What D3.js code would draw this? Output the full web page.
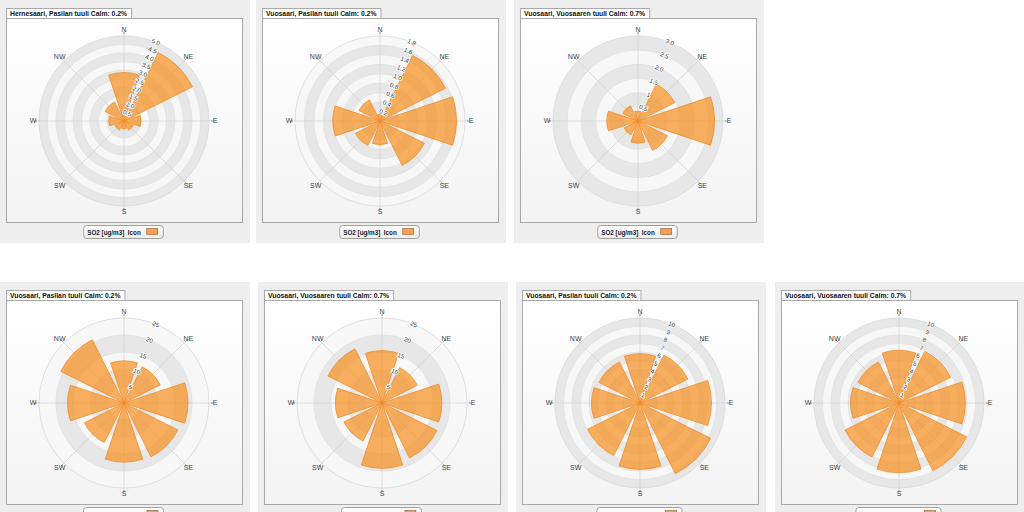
<!DOCTYPE html>
<html><head><meta charset="utf-8">
<script src="https://cdn.jsdelivr.net/npm/d3@7"></script>
<style>
html,body{margin:0;padding:0;background:#fff;}
svg{display:block;font-family:"Liberation Sans",Arial,sans-serif;}
</style></head>
<body>
<svg id="chart" width="1024" height="512"></svg>
<script>
// ---------- DATA ----------
const directions = ["N","NE","E","SE","S","SW","W","NW"];

const titles = [
  "Hernesaari, Pasilan tuuli Calm: 0.2%",
  "Vuosaari, Pasilan tuuli Calm: 0.2%",
  "Vuosaari, Vuosaaren tuuli Calm: 0.7%",
  "Vuosaari, Pasilan tuuli Calm: 0.2%",
  "Vuosaari, Vuosaaren tuuli Calm: 0.7%",
  "Vuosaari, Pasilan tuuli Calm: 0.2%",
  "Vuosaari, Vuosaaren tuuli Calm: 0.7%"
];
const legendLabels = [
  "SO2 [ug/m3]  Icon","SO2 [ug/m3]  Icon","SO2 [ug/m3]  Icon",
  "NO2 [ug/m3]  Icon","NO2 [ug/m3]  Icon",
  "PM2.5 [ug/m3]  Icon","PM2.5 [ug/m3]  Icon"
];

// series values per direction (N, NE, E, SE, S, SW, W, NW)
const hernesaariSO2Pasila   = [2.85, 4.5, 1.0, 0.6, 0.45, 0.6, 0.9, 1.25];
const vuosaariSO2Pasila     = [0.15, 1.55, 1.62, 1.05, 0.5, 0.58, 1.0, 0.5];
const vuosaariSO2Vuosaari   = [0.35, 1.45, 2.7, 1.16, 0.78, 0.55, 1.1, 0.6];
const vuosaariNO2Pasila     = [12.4, 11.9, 18.8, 17.7, 17.4, 13.0, 16.6, 20.8];
const vuosaariNO2Vuosaari   = [15.4, 11.6, 17.6, 18.1, 19.2, 12.5, 13.7, 17.8];
const vuosaariPM25Pasila    = [5.8, 6.3, 8.4, 9.3, 7.8, 6.9, 5.7, 5.4];
const vuosaariPM25Vuosaari  = [6.2, 6.8, 7.8, 8.9, 8.2, 7.1, 5.7, 5.4];

// radial tick values and labels
const ticksSO2a  = [0.5,1.0,1.5,2.0,2.5,3.0,3.5,4.0,4.5,5.0];
const labelsSO2a = ["0.5","1.0","1.5","2.0","2.5","3.0","3.5","4.0","4.5","5.0"];
const ticksSO2b  = [0.2,0.4,0.6,0.8,1.0,1.2,1.4,1.6,1.8];
const labelsSO2b = ["0.2","0.4","0.6","0.8","1.0","1.2","1.4","1.6","1.8"];
const ticksSO2c  = [0.5,1.0,1.5,2.0,2.5,3.0];
const labelsSO2c = ["0.5","1","1.5","2.0","2.5","3.0"];
const ticksNO2   = [5,10,15,20,25];
const labelsNO2  = ["5","10","15","20","25"];
const ticksPM    = [1,2,3,4,5,6,7,8,9,10];
const labelsPM   = ["1","2","3","4","5","6","7","8","9","10"];

const panels = [
  {title:titles[0], legend:legendLabels[0], values:hernesaariSO2Pasila,  ticks:ticksSO2a, labels:labelsSO2a},
  {title:titles[1], legend:legendLabels[1], values:vuosaariSO2Pasila,    ticks:ticksSO2b, labels:labelsSO2b},
  {title:titles[2], legend:legendLabels[2], values:vuosaariSO2Vuosaari,  ticks:ticksSO2c, labels:labelsSO2c},
  {title:titles[3], legend:legendLabels[3], values:vuosaariNO2Pasila,    ticks:ticksNO2,  labels:labelsNO2},
  {title:titles[4], legend:legendLabels[4], values:vuosaariNO2Vuosaari,  ticks:ticksNO2,  labels:labelsNO2},
  {title:titles[5], legend:legendLabels[5], values:vuosaariPM25Pasila,   ticks:ticksPM,   labels:labelsPM},
  {title:titles[6], legend:legendLabels[6], values:vuosaariPM25Vuosaari, ticks:ticksPM,   labels:labelsPM}
];

// ---------- LAYOUT ----------
const positions = [[0,0],[256,0],[514,0],[0,282],[258,282],[516,282],[775,282]];
const R = 85;
const svg = d3.select("#chart");
const defs = svg.append("defs");
const g1 = defs.append("linearGradient").attr("id","plotbg").attr("x1",0).attr("y1",0).attr("x2",0).attr("y2",1);
g1.append("stop").attr("offset","0%").attr("stop-color","#ffffff");
g1.append("stop").attr("offset","100%").attr("stop-color","#f3f3f3");
const g2 = defs.append("linearGradient").attr("id","legbg").attr("x1",0).attr("y1",0).attr("x2",0).attr("y2",1);
g2.append("stop").attr("offset","0%").attr("stop-color","#ffffff");
g2.append("stop").attr("offset","100%").attr("stop-color","#ececec");

const angle = d3.scaleBand()
  .domain(directions)
  .range([-Math.PI/8, 2*Math.PI - Math.PI/8])
  .paddingInner(0.18).paddingOuter(0.09);
const dirAngle = d3.scalePoint().domain(directions).range([0, 2*Math.PI*7/8]);

panels.forEach((p, i) => {
  const [px, py] = positions[i];
  const w = (i === 6) ? 249 : 250;
  const g = svg.append("g").attr("transform", `translate(${px},${py})`);
  g.append("rect").attr("width", w).attr("height", 243).attr("fill", "#eeeeee");
  g.append("rect").attr("x", 6.5).attr("y", 18.5).attr("width", 236).attr("height", 204)
    .attr("fill", "url(#plotbg)").attr("stroke", "#a9a9a9");

  // title tab
  const tt = g.append("text").attr("x", 10).attr("y", 15.8)
    .attr("font-size", 6.8).attr("font-weight", "bold").attr("fill", "#111").text(p.title);
  const tw = tt.node().getComputedTextLength();
  g.insert("rect", "text").attr("x", 6.5).attr("y", 8.5).attr("width", tw + 8).attr("height", 10)
    .attr("fill", "#ffffff").attr("stroke", "#a9a9a9");

  const max = p.ticks[p.ticks.length - 1];
  const r = d3.scaleLinear().domain([0, max]).range([0, R]);
  const c = g.append("g").attr("transform", "translate(124,121)");

  // bands
  const bandEdges = [0].concat(p.ticks);
  for (let k = bandEdges.length - 2; k >= 0; k--) {
    c.append("path")
      .attr("d", d3.arc()({innerRadius: r(bandEdges[k]), outerRadius: r(bandEdges[k+1]), startAngle: 0, endAngle: 2*Math.PI}))
      .attr("fill", k % 2 === 1 ? "#e7e7e7" : "#f7f7f7");
  }
  // ring lines
  c.selectAll("circle.ring").data(p.ticks).join("circle")
    .attr("r", d => r(d)).attr("fill", "none")
    .attr("stroke", (d, j) => j === p.ticks.length - 1 ? "#d4d8dc" : "#dedede").attr("stroke-width", 0.8);
  // spokes
  c.selectAll("line.spoke").data(directions).join("line")
    .attr("x1", 0).attr("y1", 0)
    .attr("x2", d => Math.sin(dirAngle(d)) * (R + 3))
    .attr("y2", d => -Math.cos(dirAngle(d)) * (R + 3))
    .attr("stroke", "#d0d0d0").attr("stroke-width", 0.7);
  // tick marks
  c.selectAll("line.tick").data(directions).join("line")
    .attr("x1", d => Math.sin(dirAngle(d)) * (R + 2))
    .attr("y1", d => -Math.cos(dirAngle(d)) * (R + 2))
    .attr("x2", d => Math.sin(dirAngle(d)) * (R + 4.5))
    .attr("y2", d => -Math.cos(dirAngle(d)) * (R + 4.5))
    .attr("stroke", "#777").attr("stroke-width", 0.8);

  // bars
  const arc = d3.arc();
  c.selectAll("path.bar").data(directions).join("path")
    .attr("d", (d, j) => arc({innerRadius: 0, outerRadius: r(p.values[j]),
      startAngle: angle(d), endAngle: angle(d) + angle.bandwidth()}))
    .attr("fill", "#f7901e").attr("fill-opacity", 0.7)
    .attr("stroke", "#f08a28").attr("stroke-width", 0.8);

  // radial labels
  const la = 22 * Math.PI / 180;
  c.selectAll("text.rl").data(p.ticks).join("text")
    .attr("transform", d => `translate(${Math.sin(la) * r(d)},${-Math.cos(la) * r(d)}) rotate(22)`)
    .attr("text-anchor", "middle").attr("dy", "0.35em")
    .attr("font-size", 6.2).attr("fill", "#333")
    .attr("stroke", "#ffffff").attr("stroke-width", 1.6).attr("paint-order", "stroke")
    .text((d, j) => p.labels[j]);

  // compass labels
  c.selectAll("text.cmp").data(directions).join("text")
    .attr("x", d => Math.sin(dirAngle(d)) * 91)
    .attr("y", d => -Math.cos(dirAngle(d)) * 91)
    .attr("text-anchor", "middle").attr("dy", "0.35em")
    .attr("font-size", 7).attr("fill", "#444").text(d => d);

  // legend
  const lg = g.append("g");
  const lt = lg.append("text").attr("x", 0).attr("y", 9.5)
    .attr("font-size", 6.3).attr("font-weight", "bold").attr("fill", "#222")
    .attr("xml:space", "preserve").style("white-space", "pre").text(p.legend);
  const lw = lt.node().getComputedTextLength();
  const boxW = lw + 26;
  const bx = 123 - boxW / 2;
  lg.attr("transform", `translate(${bx},225)`);
  lg.insert("rect", "text").attr("x", 0.5).attr("y", 0.5).attr("width", boxW).attr("height", 13)
    .attr("rx", 3).attr("fill", "url(#legbg)").attr("stroke", "#a0a0a0");
  lt.attr("x", 4);
  lg.append("rect").attr("x", lw + 10).attr("y", 3.5).attr("width", 11).attr("height", 6)
    .attr("fill", "#f8a050").attr("stroke", "#8a5a2a").attr("stroke-width", 0.6);
});
</script>
</body></html>
